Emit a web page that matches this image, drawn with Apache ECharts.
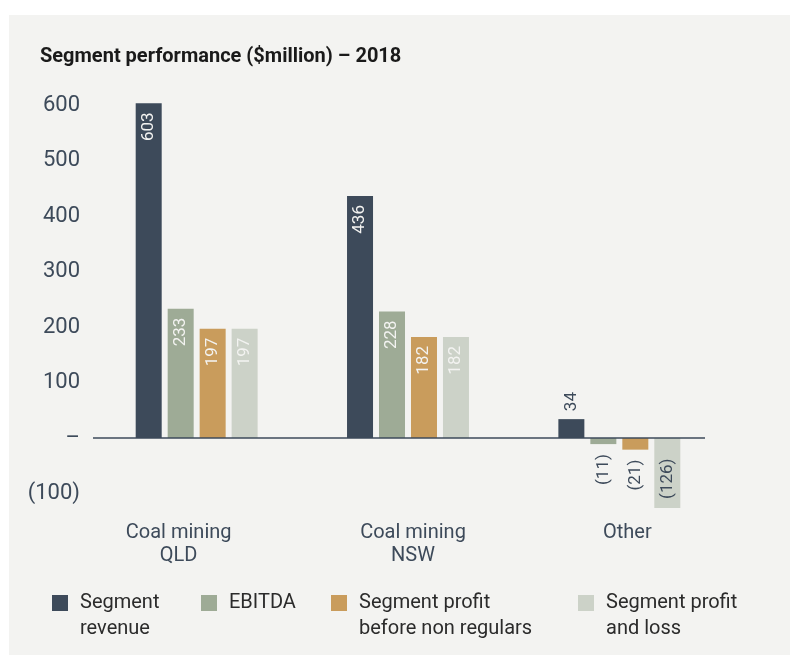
<!DOCTYPE html>
<html>
<head>
<meta charset="utf-8">
<script src="https://cdn.jsdelivr.net/npm/echarts@6/dist/echarts.min.js"></script>
<style>
html, body { margin: 0; padding: 0; background: #fff; }
#main { width: 790px; height: 657px; }
</style>
</head>
<body>
<div id="main"></div>
<script>
var myChart = echarts.init(document.getElementById('main'));

// data ($million)
var categories = ['Coal mining\nQLD', 'Coal mining\nNSW', 'Other'];
var seriesNames = ['Segment revenue', 'EBITDA', 'Segment profit before non regulars', 'Segment profit and loss'];
var legendLabels = ['Segment\nrevenue', 'EBITDA', 'Segment profit\nbefore non regulars', 'Segment profit\nand loss'];
var revenue = [603, 436, 34];
var ebitda = [233, 228, -11];
var profitBeforeNonRegulars = [197, 182, -21];
var profitAndLoss = [197, 182, -126];

var colors = ['#3d4a5a', '#9eab96', '#c99c5c', '#ccd2c8'];
var dark = '#3d4a5a';
var font = 'Roboto, sans-serif';

// 括号表示负数
var fmtNum = function (v) {
    if (v === 0) return '–';
    return v < 0 ? '(' + Math.abs(v) + ')' : String(v);
};

// label inside the bar when it is tall enough, otherwise outside
var makeData = function (values) {
    return values.map(function (v) {
        var lab;
        if (v >= 100) {
            lab = { position: 'insideTop', align: 'right', color: '#f3f3f1', distance: 9 };
        } else if (v > 0) {
            lab = { position: 'top', align: 'left', color: dark, distance: 8 };
        } else if (v > -100) {
            lab = { position: 'bottom', align: 'right', color: dark, distance: 10 };
        } else {
            lab = { position: 'insideBottom', align: 'left', color: dark, distance: 9 };
        }
        return { value: v, label: lab };
    });
};

var allValues = [revenue, ebitda, profitBeforeNonRegulars, profitAndLoss];
var series = allValues.map(function (vals, i) {
    return {
        name: seriesNames[i],
        type: 'bar',
        barWidth: 26,
        barGap: '23%',
        clip: false,
        itemStyle: { color: colors[i] },
        label: {
            show: true,
            rotate: 90,
            verticalAlign: 'middle',
            fontSize: 17,
            fontFamily: font,
            formatter: function (p) { return fmtNum(p.value); }
        },
        data: makeData(vals)
    };
});

// legend text is centred on the icon, so a blank first line puts the icon beside line one
var legendLeft = [52, 201, 331, 578];
var legends = seriesNames.map(function (name, i) {
    var twoLine = legendLabels[i].indexOf('\n') > -1;
    return {
        data: [name],
        left: legendLeft[i],
        top: twoLine ? 564 : 590,
        padding: 0,
        itemWidth: 16,
        itemHeight: 16,
        icon: 'rect',
        selectedMode: false,
        formatter: function () { return twoLine ? ' \n' + legendLabels[i] : legendLabels[i]; },
        textStyle: {
            fontSize: 20,
            lineHeight: 26,
            fontFamily: font,
            color: '#2b2b2b',
            padding: [0, 0, 0, 7]
        }
    };
});

var labelShift = [-18, 5, 8];
var xData = categories.map(function (c, i) {
    var s = labelShift[i];
    return {
        value: c,
        textStyle: { padding: s < 0 ? [0, -2 * s, 0, 0] : [0, 0, 0, 2 * s] }
    };
});

var panel = {
    id: 'panel',
    type: 'rect',
    z: -100,
    shape: { x: 9, y: 15, width: 781, height: 640 },
    style: { fill: '#f3f3f1' }
};

var option = {
    backgroundColor: '#ffffff',
    animation: false,
    title: {
        text: 'Segment performance ($million) – 2018',
        left: 40,
        top: 47,
        padding: 0,
        textStyle: { fontSize: 20, fontWeight: 'bold', fontFamily: font, color: '#1a1a1a' }
    },
    graphic: [panel],
    legend: legends,
    grid: { left: 91, right: 65, top: 105, bottom: 163.5 },
    xAxis: {
        type: 'category',
        data: xData,
        axisLine: { show: false, onZero: false },
        axisTick: { show: false },
        axisLabel: { margin: 28, fontSize: 20, lineHeight: 23, color: dark, fontFamily: font }
    },
    yAxis: {
        type: 'value',
        min: -100,
        max: 600,
        interval: 100,
        axisLine: { show: false },
        axisTick: { show: false },
        splitLine: { show: false },
        axisLabel: { margin: 11, fontSize: 22, color: dark, fontFamily: font, formatter: fmtNum }
    },
    series: series
};

myChart.setOption(option);

// 零轴线，只画到 705
var y0 = myChart.convertToPixel({ yAxisIndex: 0 }, 0);
myChart.setOption({
    graphic: [panel, {
        id: 'zero',
        type: 'line',
        z: 100,
        shape: { x1: 93, y1: y0, x2: 705, y2: y0 },
        style: { stroke: dark, lineWidth: 1.5 }
    }]
});
</script>
</body>
</html>
